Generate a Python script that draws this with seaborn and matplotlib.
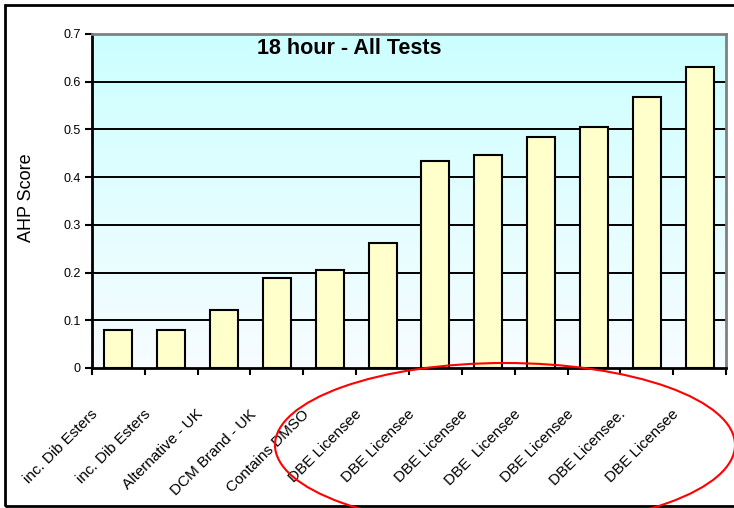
import numpy as np
import pandas as pd
import seaborn as sns
import matplotlib.pyplot as plt
from matplotlib.patches import Ellipse, Rectangle
from matplotlib.transforms import ScaledTranslation

# values
products = ["inc. Dib Esters", "inc. Dib Esters", "Alternative - UK", "DCM Brand - UK",
            "Contains DMSO", "DBE Licensee", "DBE Licensee", "DBE Licensee",
            "DBE  Licensee", "DBE Licensee", "DBE Licensee.", "DBE Licensee"]
ahp_score = [0.080, 0.080, 0.122, 0.189, 0.206, 0.262, 0.434, 0.446, 0.484, 0.505, 0.568, 0.630]
y_ticks = [0, 0.1, 0.2, 0.3, 0.4, 0.5, 0.6, 0.7]
y_tick_labels = ["0", "0.1", "0.2", "0.3", "0.4", "0.5", "0.6", "0.7"]

df = pd.DataFrame({"slot": [str(i) for i in range(len(products))], "score": ahp_score})

sns.set_style("white")
plt.rcParams['font.family'] = ['Liberation Sans', 'DejaVu Sans']
plt.rcParams['text.color'] = 'black'
plt.rcParams['axes.labelcolor'] = 'black'
plt.rcParams['xtick.color'] = 'black'
plt.rcParams['ytick.color'] = 'black'

fig = plt.figure(figsize=(7.34, 5.08), dpi=100)
ax = fig.add_axes([92 / 734, 1 - 368 / 508, 634 / 734, 334 / 508])

# light cyan (top) -> near white (bottom) gradient in the plot area
grad = np.linspace(0, 1, 256)[:, None]
top = np.array([0.80, 1.0, 1.0])
bot = np.array([0.97, 0.99, 1.0])
img = top[None, None, :] * (1 - grad[..., None]) + bot[None, None, :] * grad[..., None]
ax.imshow(img, extent=[-0.5, 11.5, 0, 0.7], origin="upper", aspect="auto", zorder=0)

sns.barplot(data=df, x="slot", y="score", color="#FFFFCC", width=0.53,
            edgecolor="black", linewidth=1.5, saturation=1, ax=ax, zorder=3)

ax.set_xlim(-0.5, 11.5)
ax.set_ylim(0, 0.7)
for yv in y_ticks[1:-1]:
    ax.axhline(yv, color="black", lw=1.4, zorder=2)

ax.set_yticks(y_ticks)
ax.set_yticklabels(y_tick_labels, fontsize=9)
ax.tick_params(axis="y", direction="out", length=5, width=1.5, left=True, pad=3)

ax.set_xticks(range(len(products)))
ax.set_xticklabels(products, rotation=45, ha="right", va="center",
                   rotation_mode="anchor", fontsize=11)
ax.tick_params(axis="x", which="major", length=0, pad=0)
ax.set_xticks(np.arange(-0.5, 12, 1), minor=True)
ax.tick_params(axis="x", which="minor", direction="out", length=5, width=1.5, bottom=True)
shift = ScaledTranslation(-0.23, -0.44, fig.dpi_scale_trans)
for lab in ax.get_xticklabels():
    lab.set_transform(lab.get_transform() + shift)

for s in ["left", "bottom"]:
    ax.spines[s].set_color("black")
    ax.spines[s].set_linewidth(2)
for s in ["top", "right"]:
    ax.spines[s].set_color("#808080")
    ax.spines[s].set_linewidth(2)

ax.set_xlabel("")
ax.set_ylabel("AHP Score", fontsize=13)
ax.yaxis.set_label_coords(-0.09, 0.51)
ax.text(0.405, 0.957, "18 hour - All Tests", transform=ax.transAxes,
        ha="center", va="center", fontsize=15.5, fontweight="bold", zorder=5)

# outer chart frame
fig.add_artist(Rectangle((5 / 734, 2 / 508), 740 / 734, 501 / 508, transform=fig.transFigure,
                         fill=False, edgecolor="black", lw=2, clip_on=False))
# red highlight ellipse
fig.add_artist(Ellipse((505 / 734, 1 - 445 / 508), 460 / 734, 164 / 508, transform=fig.transFigure,
                       fill=False, edgecolor="red", lw=1.5, clip_on=False))

fig.savefig("out.png", dpi=100)
